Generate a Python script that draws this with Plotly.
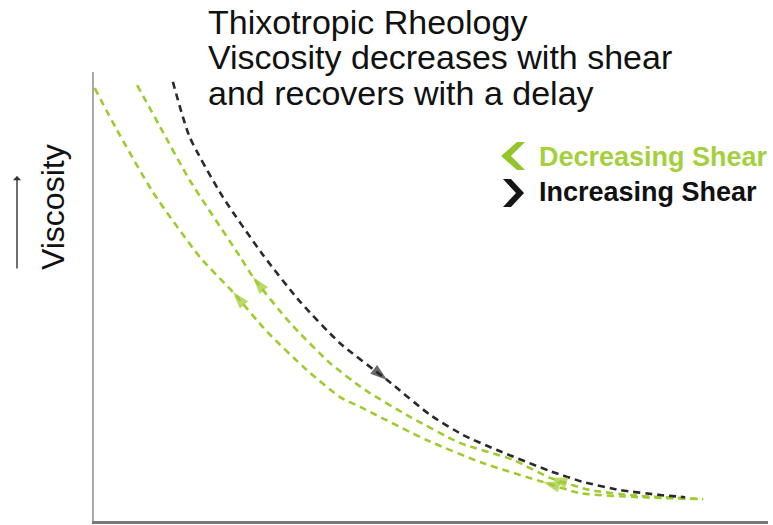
import plotly.graph_objects as go

# Increasing shear (black) curve: shear rate vs viscosity (arbitrary units)
inc_shear = [1.17, 1.42, 1.91, 2.51, 3.06, 3.65, 4.35, 4.99, 5.47, 5.98, 6.77, 7.26, 7.80, 8.40, 8.77]
inc_visc = [9.78, 8.55, 7.22, 5.92, 4.88, 3.96, 3.14, 2.36, 1.92, 1.58, 1.11, 0.87, 0.69, 0.58, 0.53]

# Decreasing shear, outer recovery curve (green)
dec1_shear = [0.64, 0.98, 1.42, 2.17, 2.36, 2.91, 3.50, 4.02, 4.69, 5.43, 6.22, 6.77, 7.36, 8.10, 9.04]
dec1_visc = [9.71, 8.78, 7.59, 5.88, 5.43, 4.41, 3.52, 2.92, 2.32, 1.74, 1.36, 0.96, 0.69, 0.56, 0.49]

# Decreasing shear, inner recovery curve (green)
dec2_shear = [0.01, 0.34, 0.88, 1.57, 2.06, 2.57, 3.16, 3.65, 3.95, 4.94, 5.77, 6.66, 7.21, 8.10, 8.99]
dec2_visc = [9.64, 8.71, 7.31, 5.88, 5.10, 4.21, 3.36, 2.76, 2.54, 1.80, 1.29, 0.87, 0.62, 0.53, 0.49]

title_lines = ["Thixotropic Rheology", "Viscosity decreases with shear", "and recovers with a delay"]
legend_labels = ["Decreasing Shear", "Increasing Shear"]
y_label = "Viscosity"

GREEN = "#9ccc2e"
GREEN_TXT = "#a4d03e"
BLACK = "#2a2a2a"

fig = go.Figure()

def curve(xs, ys, color):
    fig.add_trace(go.Scatter(x=xs, y=ys, mode="lines",
                             line=dict(color=color, width=2.6, dash="7px,5px", shape="spline", smoothing=0.6),
                             hoverinfo="skip", showlegend=False))

def arrow(xs, ys, i_from, i_to, color):
    fig.add_trace(go.Scatter(x=[xs[i_from], xs[i_to]], y=[ys[i_from], ys[i_to]], mode="markers",
                             marker=dict(symbol="arrow", size=[0, 18], angleref="previous",
                                         color=color, line=dict(width=0)),
                             hoverinfo="skip", showlegend=False))

curve(dec2_shear, dec2_visc, GREEN)
curve(dec1_shear, dec1_visc, GREEN)
curve(inc_shear, inc_visc, BLACK)

arrow(dec1_shear, dec1_visc, 5, 4, GREEN)
arrow(dec2_shear, dec2_visc, 5, 4, GREEN)
arrow(dec1_shear, dec1_visc, 12, 11, GREEN)
arrow(dec2_shear, dec2_visc, 12, 11, GREEN)
arrow(inc_shear, inc_visc, 5, 6, BLACK)

W, H = 773, 525
AX_L, AX_R, AX_T, AX_B = 94, 768, 72, 521   # plot area in window pixels
L, R, T, B = AX_L, W - AX_R, AX_T, H - AX_B
pw, ph = AX_R - AX_L, AX_B - AX_T

def px(x):
    return (x - AX_L) / pw

def py(y):
    return (AX_B - y) / ph

annotations = []
for line, yc in zip(title_lines, [22, 57.5, 93]):
    annotations.append(dict(text=line, xref="paper", yref="paper", x=px(207), y=py(yc),
                            xanchor="left", yanchor="middle", showarrow=False, borderpad=0,
                            font=dict(family="Liberation Sans, Arial", size=34, color="#111111")))

annotations.append(dict(text="<b>" + legend_labels[0] + "</b>", xref="paper", yref="paper",
                        x=px(537), y=py(157), xanchor="left", yanchor="middle", showarrow=False,
                        font=dict(family="Liberation Sans, Arial", size=27, color=GREEN_TXT)))
annotations.append(dict(text="<b>" + legend_labels[1] + "</b>", xref="paper", yref="paper",
                        x=px(537), y=py(192), xanchor="left", yanchor="middle", showarrow=False,
                        font=dict(family="Liberation Sans, Arial", size=27, color="#111111")))

annotations.append(dict(text=y_label, xref="paper", yref="paper", x=px(53), y=py(207),
                        xanchor="center", yanchor="middle", textangle=-90, showarrow=False,
                        font=dict(family="Liberation Sans, Arial", size=32, color="#111111")))
annotations.append(dict(text="", xref="paper", yref="paper", x=px(17), y=py(176),
                        ax=0, ay=94, showarrow=True, arrowhead=1, arrowsize=1,
                        arrowwidth=1.4, arrowcolor="#333333"))

def poly(points):
    d = "M " + " L ".join(f"{px(x):.4f},{py(y):.4f}" for x, y in points) + " Z"
    return d

# legend chevron icons (decorative glyphs)
shapes = [
    dict(type="path", xref="paper", yref="paper", line=dict(width=0), fillcolor="#93c52a",
         path=poly([(517, 142), (525, 142), (511, 156), (525, 170), (517, 170), (501, 156)])),
    dict(type="path", xref="paper", yref="paper", line=dict(width=0), fillcolor="#151515",
         path=poly([(503, 179), (511, 179), (524, 193), (511, 207), (503, 207), (516, 193)])),
]

fig.update_layout(
    width=W, height=H,
    margin=dict(l=L, r=R, t=T, b=B),
    paper_bgcolor="white", plot_bgcolor="white",
    xaxis=dict(range=[0, 10], showgrid=False, zeroline=False, showticklabels=False, ticks="",
               showline=True, linecolor="#7a7a7a", linewidth=3, fixedrange=True),
    yaxis=dict(range=[0, 10], showgrid=False, zeroline=False, showticklabels=False, ticks="",
               showline=True, linecolor="#a8a8a8", linewidth=2, fixedrange=True),
    annotations=annotations,
    shapes=shapes,
    showlegend=False,
)

fig.write_html("out.html", config={"displayModeBar": False},
               post_script="document.body.style.margin='0';")
